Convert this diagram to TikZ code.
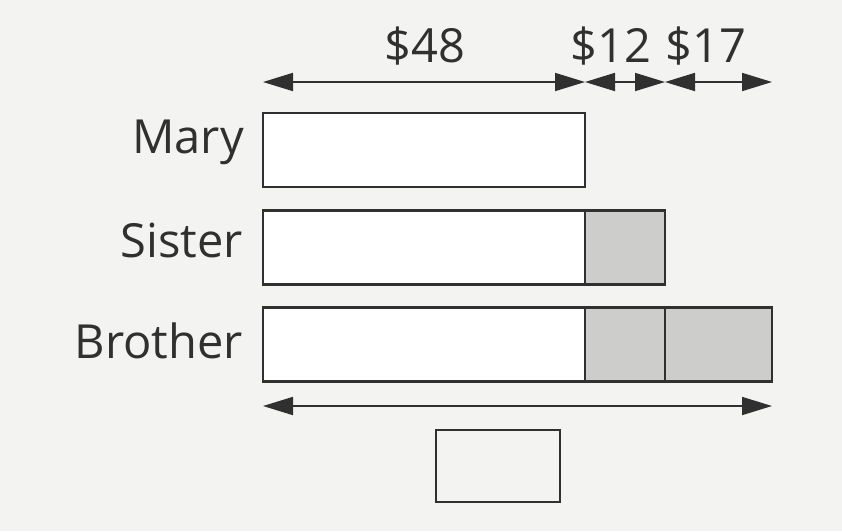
\documentclass[tikz,border=0pt]{standalone}
\usepackage{fontspec}
\setmainfont{Open Sans}
\usetikzlibrary{arrows.meta}
\definecolor{bg}{RGB}{243,243,241}
\definecolor{ink}{RGB}{48,48,48}
\definecolor{shade}{RGB}{205,205,203}
\begin{document}
\begin{tikzpicture}[x=1pt,y=-1pt,
  seg/.style={draw=ink,line width=2.8pt,inner sep=0pt,outer sep=0pt,fill=white,minimum height=74pt},
  segshade/.style={seg,fill=shade},
  lbl/.style={text=ink,inner sep=0pt,font=\fontsize{47}{54}\selectfont},
  dim/.style={draw=ink,line width=1.8pt,{Triangle[length=30pt,width=18pt]}-{Triangle[length=30pt,width=18pt]}}]
\fill[bg] (0,0) rectangle (842,531);
\useasboundingbox (0,0) rectangle (842,531);
% Mary
\node[seg,minimum width=322pt] (m1) at (424,150) {};
% Sister
\node[seg,minimum width=322pt] (s1) at (424,247.5) {};
\node[segshade,minimum width=80pt] (s2) at (625,247.5) {};
% Brother
\node[seg,minimum width=322pt] (b1) at (424,344.5) {};
\node[segshade,minimum width=80pt] (b2) at (625,344.5) {};
\node[segshade,minimum width=107pt] (b3) at (718.5,344.5) {};
% answer box
\node[draw=ink,line width=2.8pt,inner sep=0pt,minimum width=124pt,minimum height=72pt] (ans) at (498,466) {};
% labels
\node[lbl,anchor=base east] (lm) at (244,153) {Mary};
\node[lbl,anchor=base east] (ls) at (243,257) {Sister};
\node[lbl,anchor=base east] (lb) at (243,358) {Brother};
\node[lbl,anchor=base] (t48) at (425,62) {\$48};
\node[lbl,anchor=base] (t12) at (611,62) {\$12};
\node[lbl,anchor=base] (t17) at (706,62) {\$17};
% dimension coordinates
\coordinate (a0) at (b1.west |- 0,82);
\coordinate (a1) at (b2.west |- 0,82);
\coordinate (a2) at (b3.west |- 0,82);
\coordinate (a3) at (b3.east |- 0,82);
\draw[dim] (a0) -- (a1);
\draw[dim] (a1) -- (a2);
\draw[dim] (a2) -- (a3);
\coordinate (c0) at (b1.west |- 0,406);
\coordinate (c1) at (b3.east |- 0,406);
\draw[dim] (c0) -- (c1);
\end{tikzpicture}
\end{document}
